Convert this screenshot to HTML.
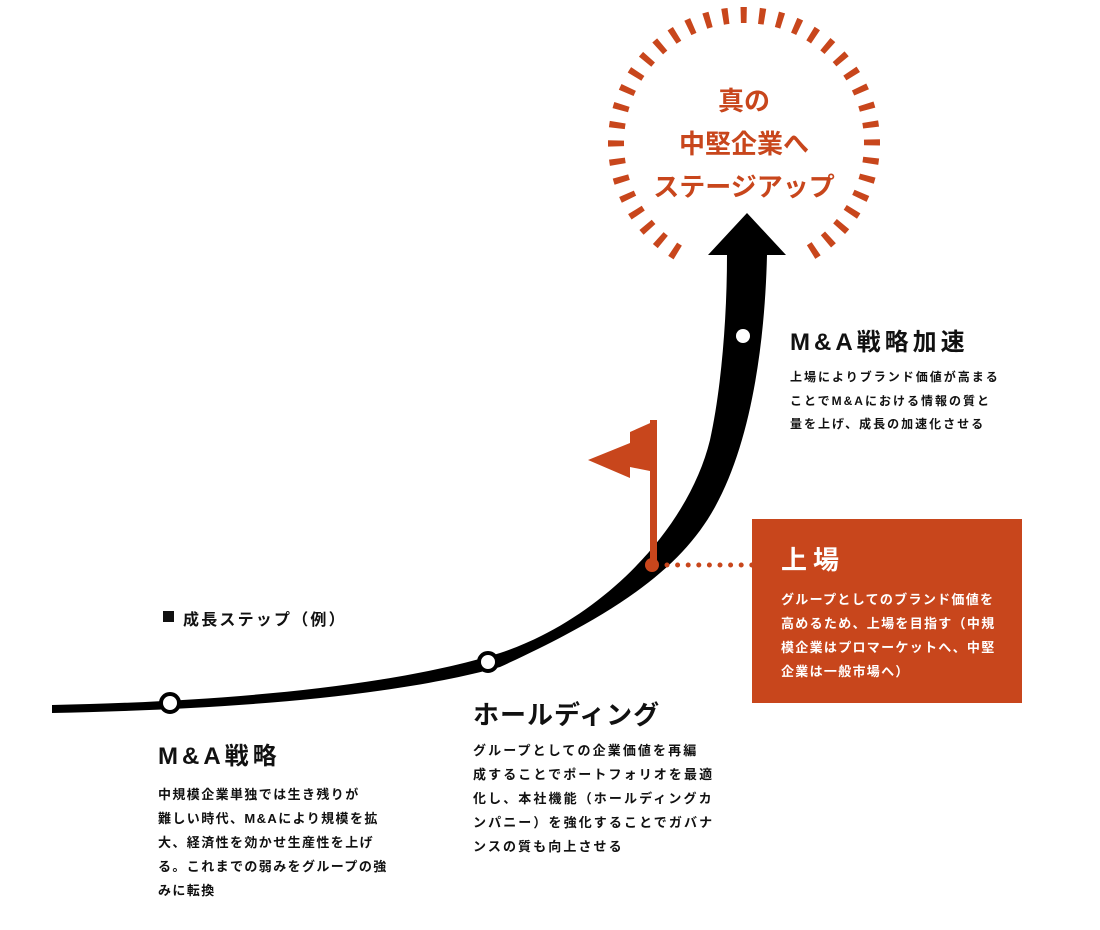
<!DOCTYPE html>
<html><head><meta charset="utf-8"><style>
body{margin:0;background:#fff;}
#c{position:relative;width:1100px;height:930px;overflow:hidden;font-family:"Liberation Sans","Noto Sans CJK JP",sans-serif;font-weight:bold;color:#111;}
.t{position:absolute;white-space:nowrap;}
</style></head><body><div id="c">
<svg width="1100" height="930" style="position:absolute;left:0;top:0">
<circle cx="744" cy="143" r="128" fill="none" stroke="#c8461c" stroke-width="16" stroke-dasharray="6 12.28" transform="rotate(-1.6 744 143)"/>
<rect x="684" y="249" width="120" height="45" fill="#fff"/>
<path d="M52,705 C200,702 380,690 500,653 C600,620 688,530 710,440 C721,390 727,320 727,255 L708,255 L747,213 L786,255 L767,255 C765,340 752,440 715,507 C682,567 620,612 500,667 C380,700 200,710 52,713 Z" fill="#000"/>
<circle cx="170" cy="703" r="9" fill="#fff" stroke="#000" stroke-width="4"/>
<circle cx="488" cy="662" r="9" fill="#fff" stroke="#000" stroke-width="4"/>
<circle cx="743" cy="336" r="7" fill="#fff"/>
<polygon points="657,420 630,432 630,443 588,460 630,478 630,467 650,471" fill="#c8461c"/>
<rect x="650" y="420" width="7" height="145" fill="#c8461c"/>
<circle cx="652" cy="565" r="7" fill="#c8461c"/>
<line x1="667" y1="565" x2="752" y2="565" stroke="#c8461c" stroke-width="5" stroke-linecap="round" stroke-dasharray="0 10.6"/>
<rect x="752" y="519" width="270" height="184" fill="#c8461c"/>
<rect x="163" y="611" width="11" height="11" fill="#111"/>
</svg>
<div class="t" style="left:744px;top:80px;width:0;color:#c8461c;font-size:26px;line-height:43px;"><div style="position:absolute;left:-150px;width:300px;text-align:center">真の<br>中堅企業へ<br>ステージアップ</div></div>
<div class="t" style="left:183px;top:606px;font-size:16px;letter-spacing:2.2px">成長ステップ（例）</div>
<div class="t" style="left:158px;top:736px;font-size:24px;letter-spacing:4px">M&amp;A戦略</div>
<div class="t" style="left:158px;top:783px;font-size:13px;line-height:24px;letter-spacing:1.4px">中規模企業単独では生き残りが<br>難しい時代、M&amp;Aにより規模を拡<br>大、経済性を効かせ生産性を上げ<br>る。これまでの弱みをグループの強<br>みに転換</div>
<div class="t" style="left:473px;top:695px;font-size:26px;letter-spacing:1px">ホールディング</div>
<div class="t" style="left:473px;top:739px;font-size:13px;line-height:24px;letter-spacing:2.1px">グループとしての企業価値を再編<br>成することでポートフォリオを最適<br>化し、本社機能（ホールディングカ<br>ンパニー）を強化することでガバナ<br>ンスの質も向上させる</div>
<div class="t" style="left:790px;top:322px;font-size:24px;letter-spacing:4px">M&amp;A戦略加速</div>
<div class="t" style="left:790px;top:366px;font-size:12px;line-height:23.5px;letter-spacing:2px">上場によりブランド価値が高まる<br>ことでM&amp;Aにおける情報の質と<br>量を上げ、成長の加速化させる</div>
<div class="t" style="left:781px;top:540px;font-size:26px;letter-spacing:6px;color:#fff">上場</div>
<div class="t" style="left:781px;top:588px;font-size:13px;line-height:24px;letter-spacing:1.3px;color:#fff">グループとしてのブランド価値を<br>高めるため、上場を目指す（中規<br>模企業はプロマーケットへ、中堅<br>企業は一般市場へ）</div>
</div></body></html>
